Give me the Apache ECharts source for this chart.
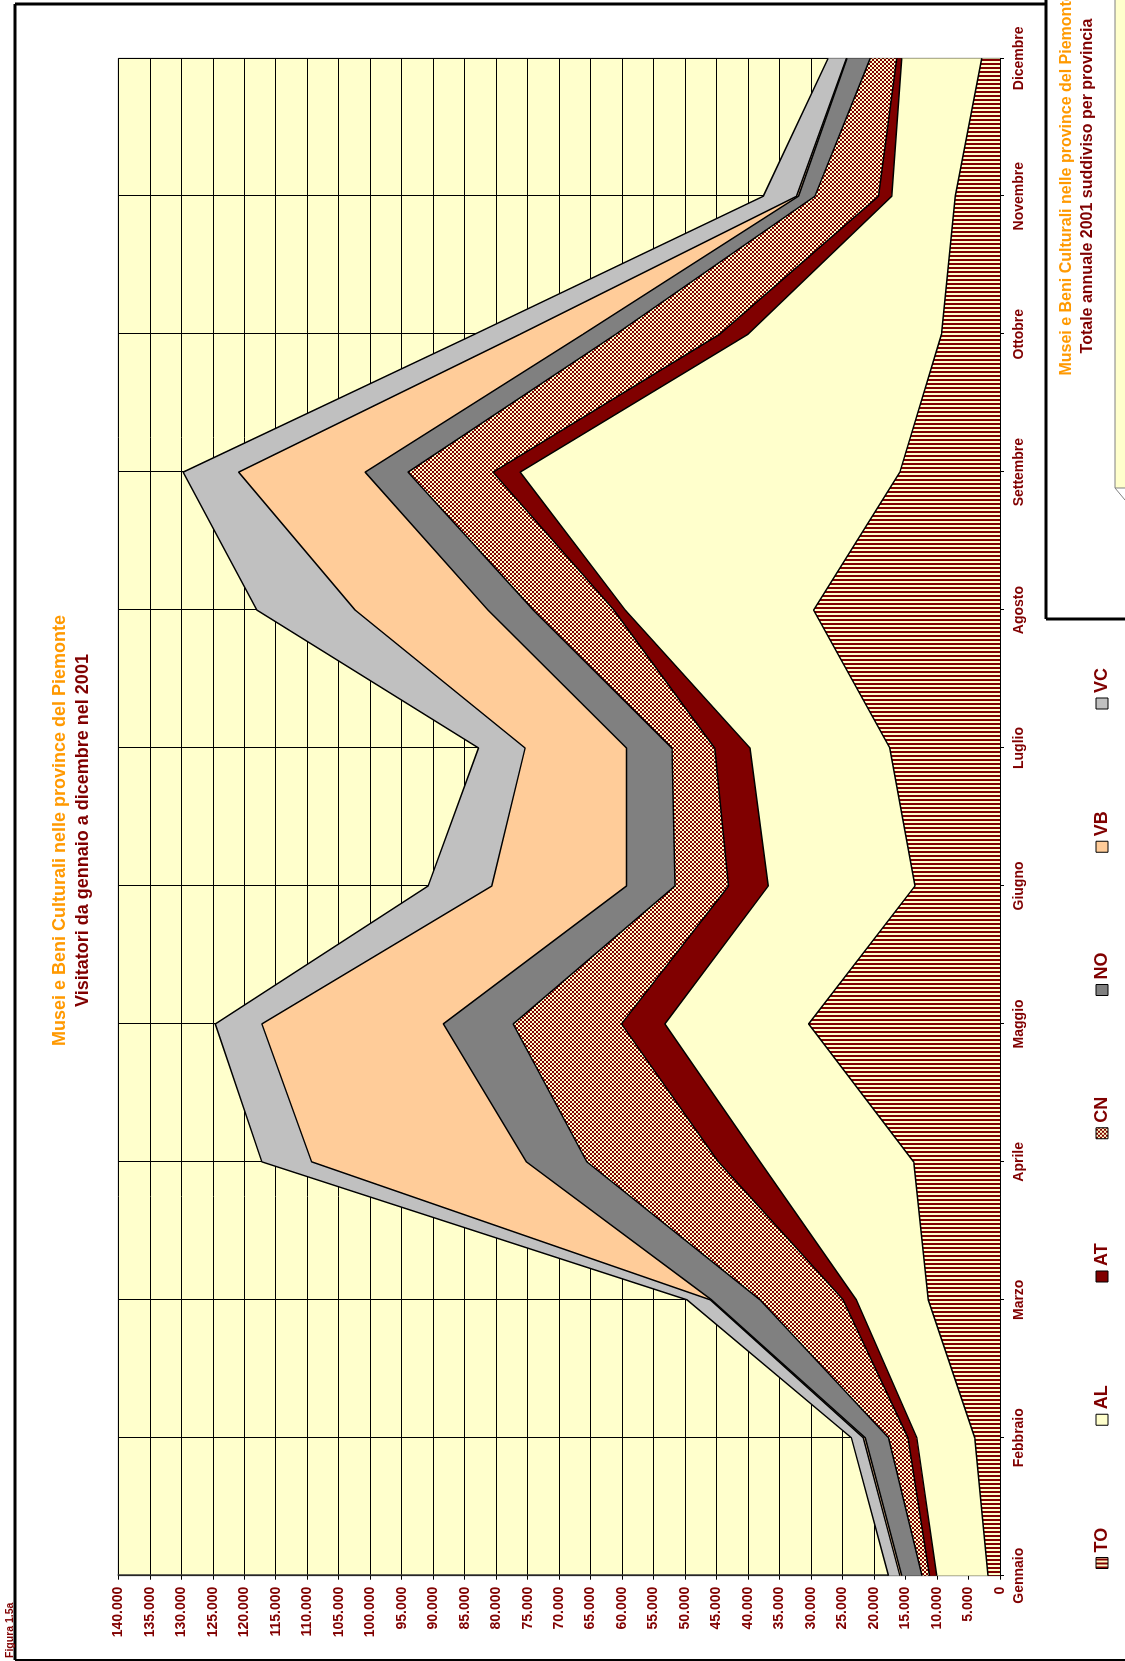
<!DOCTYPE html>
<html>
<head>
<meta charset="utf-8">
<script src="https://cdn.jsdelivr.net/npm/echarts@6/dist/echarts.min.js"></script>
<style>
html, body { margin: 0; padding: 0; background: #fff; overflow: hidden; }
#wrap { position: relative; width: 1125px; height: 1661px; overflow: hidden; }
#chart { position: absolute; left: 0; top: 0; width: 1661px; height: 1125px;
  transform-origin: 0 0; transform: translate(0, 1661px) rotate(-90deg); }
</style>
</head>
<body>
<div id="wrap"><div id="chart"></div></div>
<script>
// dati (visitatori per provincia, gennaio-dicembre 2001)
var mesi = ['Gennaio','Febbraio','Marzo','Aprile','Maggio','Giugno','Luglio','Agosto','Settembre','Ottobre','Novembre','Dicembre'];
var province = ['TO','AL','AT','CN','NO','VB','VC'];
var TO = [1900, 4000, 11400, 13700, 30400, 13500, 17500, 29600, 15900, 9300, 7100, 2900];
var AL = [8150, 9200, 11400, 24400, 22800, 23300, 22200, 29900, 60300, 30700, 10100, 12700];
var AT = [1150, 1400, 2100, 6600, 6900, 6300, 5600, 1800, 4300, 4500, 2100, 800];
var CN = [1200, 3100, 13200, 20900, 17200, 8500, 6800, 12800, 13500, 16500, 10100, 4200];
var NO = [3200, 3700, 7700, 9600, 11100, 7700, 7200, 7200, 6800, 5200, 2600, 3700];
var VB = [300, 300, 200, 34100, 28800, 21400, 16100, 21100, 20100, 10000, 300, 100];
var VC = [1800, 1900, 3700, 7900, 7400, 10100, 7400, 15600, 8800, 7200, 5300, 2900];
var valori = [TO, AL, AT, CN, NO, VB, VC];

var ROSSO = '#800000', CREMA = '#FFFFCC';
var FONT = 'Arial, "Liberation Sans", sans-serif';

// retini tipo Excel
function righe() {
	var c = document.createElement('canvas');
	c.width = 4; c.height = 4;
	var g = c.getContext('2d');
	g.fillStyle = CREMA; g.fillRect(0, 0, 4, 4);
	g.fillStyle = ROSSO; g.fillRect(0, 0, 2, 4);
	return c;
}
function scacchi() {
	var c = document.createElement('canvas');
	c.width = 4; c.height = 4;
	var g = c.getContext('2d');
	g.fillStyle = CREMA; g.fillRect(0, 0, 4, 4);
	g.fillStyle = ROSSO; g.fillRect(0, 0, 2, 2); g.fillRect(2, 2, 2, 2);
	return c;
}
var colori = [
	{ image: righe(), repeat: 'repeat' },
	CREMA,
	ROSSO,
	{ image: scacchi(), repeat: 'repeat' },
	'#808080',
	'#FFCC99',
	'#C0C0C0'
];

var myChart = echarts.init(document.getElementById('chart'), null, { renderer: 'canvas', width: 1661, height: 1125 });

var serie = [];
for (var i = 0; i < province.length; i++) {
	serie.push({
		name: province[i],
		type: 'line',
		stack: 'tot',
		data: valori[i],
		symbol: 'none',
		showSymbol: false,
		z: 10 - i,
		lineStyle: { color: '#000', width: 1.5 },
		itemStyle: { color: '#000' },
		areaStyle: { color: colori[i], opacity: 1 },
		emphasis: { disabled: true },
		silent: true
	});
}

var legende = [];
for (var i = 0; i < province.length; i++) {
	legende.push({
		data: [{ name: province[i], icon: 'rect',
			itemStyle: { color: colori[i], borderColor: '#000', borderWidth: 1 } }],
		orient: 'horizontal',
		left: 92 + i * 143.25,
		top: 1092,
		padding: 0,
		itemWidth: 11,
		itemHeight: 12,
		selectedMode: false,
		textStyle: { color: ROSSO, fontSize: 18, fontWeight: 'bold', fontFamily: FONT, lineHeight: 20 }
	});
}

var option = {
	animation: false,
	backgroundColor: '#fff',
	title: [
		{ text: 'Musei e Beni Culturali nelle province del Piemonte', left: 'center', top: 50, padding: 0,
		  textStyle: { color: '#FF9900', fontSize: 18, fontWeight: 'bold', fontFamily: FONT, lineHeight: 20 } },
		{ text: 'Visitatori da gennaio a dicembre nel 2001', left: 'center', top: 73, padding: 0,
		  textStyle: { color: ROSSO, fontSize: 18, fontWeight: 'bold', fontFamily: FONT, lineHeight: 20 } }
	],
	legend: legende,
	grid: {
		left: 85.3, right: 58.3, top: 118.3, bottom: 125,
		show: true, backgroundColor: CREMA, borderColor: '#808080', borderWidth: 1,
		containLabel: false, outerBoundsMode: 'none'
	},
	xAxis: {
		type: 'category',
		data: mesi,
		boundaryGap: false,
		axisLine: { show: true, lineStyle: { color: '#000', width: 1 } },
		axisTick: { show: true, length: 4, lineStyle: { color: '#000' } },
		axisLabel: { color: ROSSO, fontSize: 14, fontWeight: 'bold', fontFamily: FONT, margin: 11.5, lineHeight: 16, interval: 0 },
		splitLine: { show: true, lineStyle: { color: '#000', width: 1 } }
	},
	yAxis: {
		type: 'value',
		min: 0, max: 140000, interval: 5000,
		axisLine: { show: true, lineStyle: { color: '#333', width: 1.5 } },
		axisTick: { show: true, length: 4, lineStyle: { color: '#000' } },
		axisLabel: {
			color: ROSSO, fontSize: 14, fontWeight: 'bold', fontFamily: FONT, margin: 11,
			formatter: function (v) { return v === 0 ? '0' : (v / 1000) + '.000'; }
		},
		splitLine: { show: true, lineStyle: { color: '#000', width: 1 } }
	},
	series: serie,
	graphic: [
		// cornice del grafico
		{ type: 'line', shape: { x1: 1, y1: 15, x2: 1657, y2: 15 }, style: { stroke: '#000', lineWidth: 3 }, silent: true },
		{ type: 'line', shape: { x1: 1657, y1: 15, x2: 1657, y2: 1046 }, style: { stroke: '#000', lineWidth: 3 }, silent: true },
		{ type: 'line', shape: { x1: 1, y1: 15, x2: 1, y2: 1125 }, style: { stroke: '#000', lineWidth: 2 }, silent: true },
		// secondo grafico (torta) tagliato
		{ type: 'rect', shape: { x: 1173, y: 1115, width: 520, height: 20 }, style: { fill: CREMA, stroke: '#808080', lineWidth: 1 }, silent: true },
		{ type: 'line', shape: { x1: 1173, y1: 1115, x2: 1161, y2: 1125 }, style: { stroke: '#808080', lineWidth: 1 }, silent: true },
		{ type: 'line', shape: { x1: 1042, y1: 1046, x2: 1665, y2: 1046 }, style: { stroke: '#000', lineWidth: 3 }, silent: true },
		{ type: 'line', shape: { x1: 1042, y1: 1046, x2: 1042, y2: 1130 }, style: { stroke: '#000', lineWidth: 3 }, silent: true },
		{ type: 'text', x: 1477, y: 1067, silent: true,
		  style: { text: 'Musei e Beni Culturali nelle province del Piemonte', fill: '#FF9900',
			font: 'bold 16px ' + FONT, align: 'center', verticalAlign: 'middle', textAlign: 'center', textVerticalAlign: 'middle' } },
		{ type: 'text', x: 1475, y: 1088, silent: true,
		  style: { text: 'Totale annuale 2001 suddiviso per provincia', fill: ROSSO,
			font: 'bold 16px ' + FONT, align: 'center', verticalAlign: 'middle', textAlign: 'center', textVerticalAlign: 'middle' } },
		{ type: 'text', x: 3, y: 10, silent: true,
		  style: { text: 'Figura 1.5a', fill: ROSSO, font: 'bold 10.5px ' + FONT,
			align: 'left', verticalAlign: 'middle', textAlign: 'left', textVerticalAlign: 'middle' } }
	]
};

myChart.setOption(option);
</script>
</body>
</html>
